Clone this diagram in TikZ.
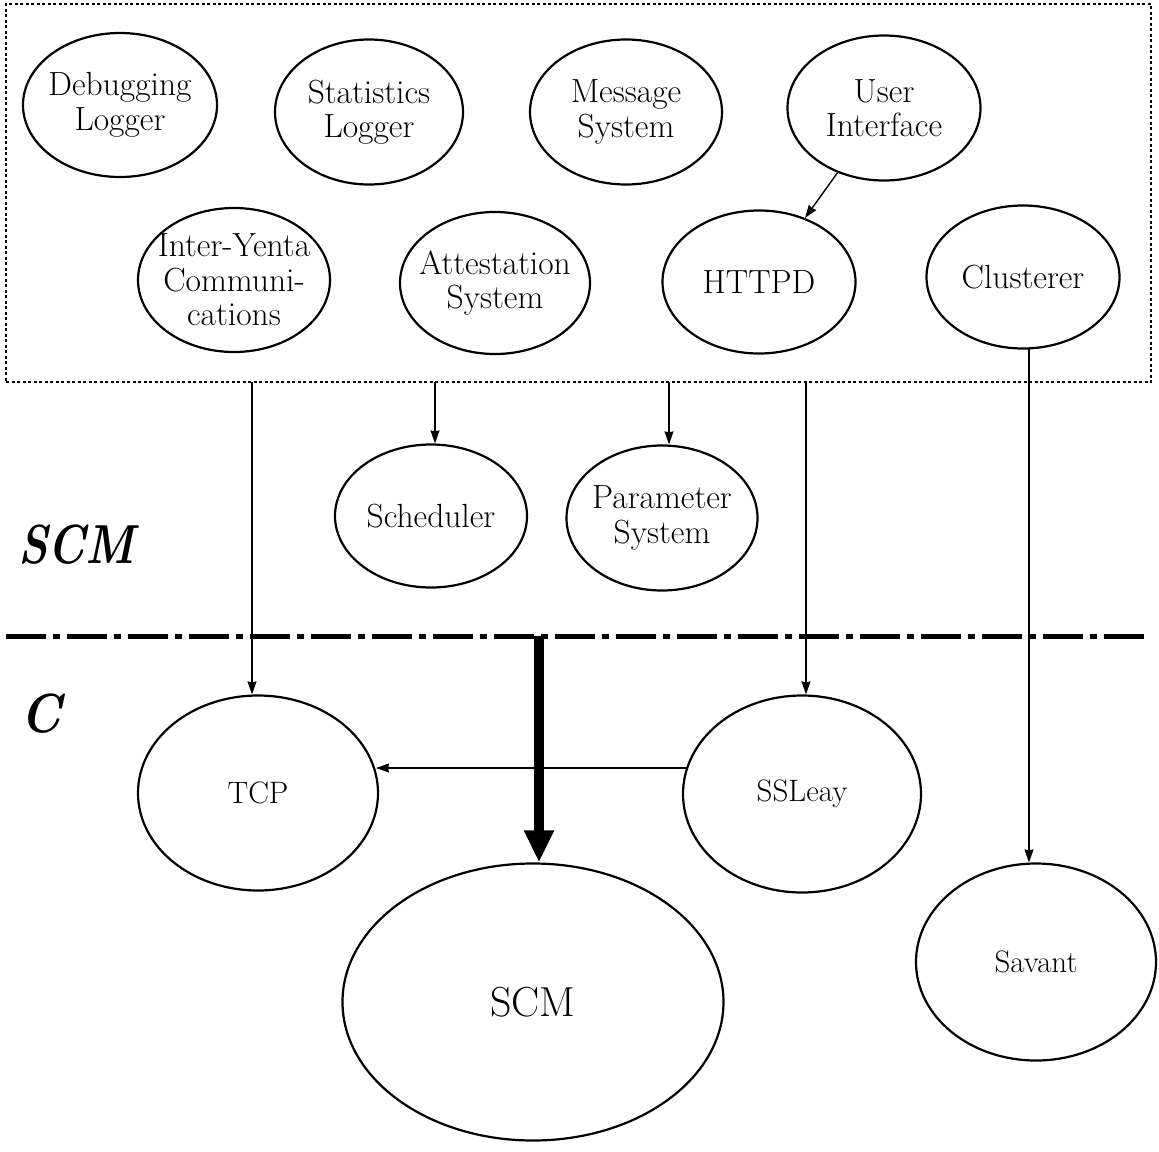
\documentclass[tikz,border=0pt]{standalone}
\usepackage{graphicx}
\usetikzlibrary{arrows.meta,shapes.geometric}
\begin{document}
\begin{tikzpicture}[x=1pt,y=-1pt,
  ell/.style={draw,ellipse,line width=2.2pt,inner sep=0pt},
  txt/.style={align=center,inner sep=0pt,font=\fontsize{33.5}{34.5}\selectfont},
  txtb/.style={align=center,inner sep=0pt,font=\fontsize{31}{33}\selectfont},
  txtc/.style={align=center,inner sep=0pt,font=\fontsize{42}{46}\selectfont},
  conn/.style={line width=1.4pt,-{Stealth[length=13pt,width=9pt,inset=1pt]}},
  big/.style={inner sep=0pt,anchor=base west,font=\fontsize{55}{58}\selectfont\bfseries\itshape}]
\useasboundingbox (0,0) rectangle (1159,1151);
% dotted box
\node[draw,line width=2.5pt,dash pattern=on 3pt off 2.5pt,minimum width=1145,minimum height=378,inner sep=0pt] (box) at (578.5,193) {};
% upper ellipses
\node[ell,minimum width=194,minimum height=144,label={[txt]center:Debugging\\Logger}] (dbg) at (120,105) {};
\node[ell,minimum width=188,minimum height=145,label={[txt]center:Statistics\\Logger}] (stat) at (369,112) {};
\node[ell,minimum width=192,minimum height=145,label={[txt]center:Message\\System}] (msg) at (626,112) {};
\node[ell,minimum width=193,minimum height=145,label={[txt]center:User\\Interface}] (ui) at (884,108) {};
\node[ell,minimum width=192,minimum height=144,label={[txt]center:Inter-Yenta\\Communi-\\cations}] (iyc) at (234,280) {};
\node[ell,minimum width=190,minimum height=142,label={[txt]center:Attestation\\System}] (att) at (495,283) {};
\node[ell,minimum width=193,minimum height=143,label={[txt]center:HTTPD}] (httpd) at (759,282) {};
\node[ell,minimum width=193,minimum height=143,label={[txt]center:Clusterer}] (clu) at (1023,277) {};
\node[ell,minimum width=192,minimum height=143,label={[txt]center:Scheduler}] (sch) at (431,516) {};
\node[ell,minimum width=191,minimum height=145,label={[txt]center:Parameter\\System}] (par) at (662,518) {};
% lower ellipses
\node[ell,minimum width=240,minimum height=195,label={[txtb]center:TCP}] (tcp) at (258,793) {};
\node[ell,minimum width=238,minimum height=197,label={[txtb]center:SSLeay}] (ssl) at (802,794) {};
\node[ell,minimum width=381,minimum height=277,label={[txtc]center:SCM}] (scm) at (533,1002) {};
\node[ell,minimum width=240,minimum height=197,label={[txtb]center:Savant}] (sav) at (1036,962) {};
% layer labels
\node[big] (lscm) at (18,563) {\scalebox{0.83}[1]{SCM}};
\node[big] (lc) at (20,732) {\scalebox{0.9}[1]{C}};
% dash-dot separator
\coordinate (sepL) at (6,636);
\coordinate (sepR) at (1151,636);
\draw[line width=5pt,dash pattern=on 40pt off 7pt on 7pt off 7pt] (sepL) -- (sepR);
% connectors
\coordinate (b1) at (252,382);
\coordinate (b2) at (435,382);
\coordinate (b3) at (669,382);
\coordinate (b4) at (806,382);
\coordinate (c1) at (1029,349);
\coordinate (s1) at (687,768);
\coordinate (t1) at (376,768);
\coordinate (th) at (539,636);
\draw[conn] (ui) -- (httpd);
\draw[conn] (b1) -- (b1 |- tcp.north);
\draw[conn] (b2) -- (b2 |- sch.north);
\draw[conn] (b3) -- (b3 |- par.north);
\draw[conn] (b4) -- (b4 |- ssl.north);
\draw[conn] (c1) -- (c1 |- sav.north);
\draw[conn] (s1) -- (t1);
\draw[line width=10pt,-{Triangle[length=32pt,width=28pt]}] (th) -- (th |- scm.north);
\end{tikzpicture}
\end{document}
